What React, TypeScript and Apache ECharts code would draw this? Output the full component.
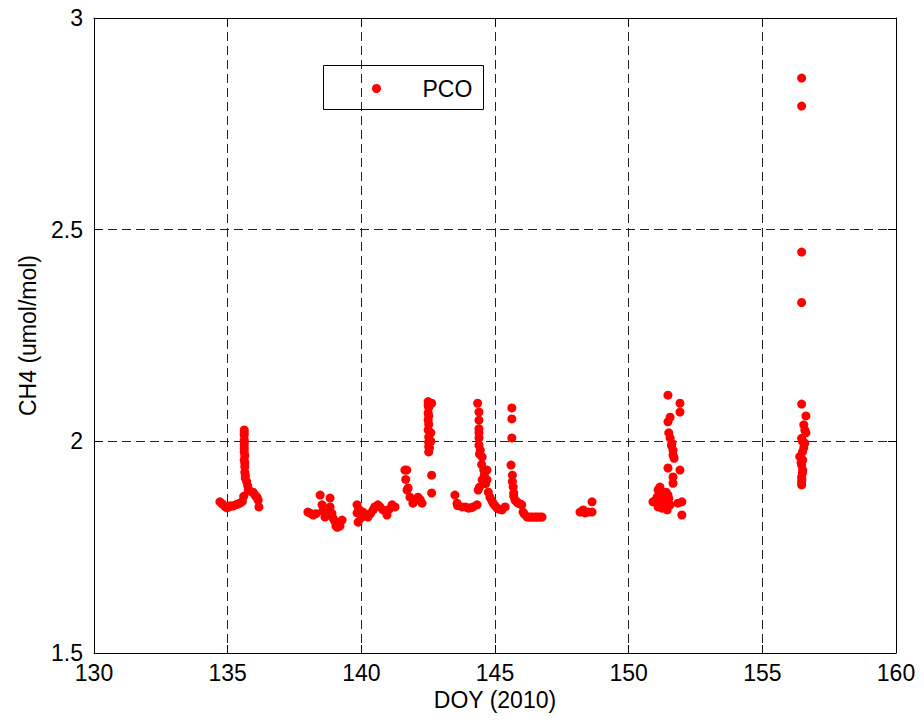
import React, { useEffect, useRef } from "react";
import * as echarts from "echarts";

// PCO CH4 observations, grouped by measurement period: [DOY, CH4 umol/mol]
const period135: [number, number][] = [
  [134.71, 1.857], [134.8, 1.852], [134.9, 1.846], [134.97, 1.843],
  [135.05, 1.845], [135.1, 1.848], [135.2, 1.847], [135.3, 1.85],
  [135.38, 1.852], [135.46, 1.854], [135.55, 1.858], [135.6, 1.87],
  [135.62, 2.027], [135.62, 2.02], [135.62, 2.015], [135.62, 2.003],
  [135.62, 1.997], [135.62, 1.991], [135.62, 1.983], [135.62, 1.975],
  [135.64, 1.966], [135.62, 1.956], [135.64, 1.949], [135.64, 1.94],
  [135.64, 1.927], [135.66, 1.92], [135.66, 1.913], [135.71, 1.905],
  [135.75, 1.895], [135.77, 1.885], [135.85, 1.882], [135.95, 1.88],
  [136.0, 1.875], [136.05, 1.87], [136.1, 1.868], [136.14, 1.861],
  [136.17, 1.845],
];

const period139: [number, number][] = [
  [138.0, 1.833], [138.1, 1.83], [138.2, 1.826], [138.3, 1.829],
  [138.46, 1.873], [138.53, 1.85], [138.55, 1.835], [138.64, 1.821],
  [138.7, 1.83], [138.83, 1.866], [138.83, 1.845], [138.9, 1.83],
  [138.94, 1.819], [139.0, 1.812], [139.05, 1.8], [139.1, 1.797],
  [139.13, 1.807], [139.2, 1.8], [139.28, 1.814],
  [139.84, 1.85], [139.9, 1.84], [139.84, 1.831], [139.88, 1.809],
  [140.0, 1.82], [140.06, 1.833], [140.15, 1.828], [140.25, 1.821],
  [140.35, 1.83], [140.44, 1.838], [140.5, 1.845], [140.62, 1.85],
  [140.7, 1.845], [140.81, 1.838], [140.96, 1.826], [141.05, 1.84],
  [141.15, 1.85], [141.26, 1.845],
];

const period142: [number, number][] = [
  [141.63, 1.932], [141.7, 1.932], [141.66, 1.91], [141.71, 1.885],
  [141.75, 1.89], [141.82, 1.868], [141.93, 1.854], [142.0, 1.86],
  [142.12, 1.868], [142.2, 1.862], [142.27, 1.854],
  [142.5, 2.094], [142.5, 2.086], [142.52, 2.08], [142.5, 2.067],
  [142.52, 2.06], [142.5, 2.05], [142.52, 2.04], [142.5, 2.027],
  [142.6, 2.02], [142.52, 2.01], [142.6, 2.0], [142.52, 1.998],
  [142.52, 1.987], [142.55, 1.985], [142.52, 1.975],
  [142.63, 2.09], [142.63, 1.92], [142.63, 1.878],
];

const period144: [number, number][] = [
  [143.5, 1.873], [143.58, 1.854], [143.6, 1.848], [143.77, 1.845],
  [143.9, 1.845], [144.0, 1.842], [144.1, 1.843], [144.18, 1.845],
  [144.33, 1.85],
  [144.35, 2.09], [144.4, 2.069], [144.4, 2.05], [144.4, 2.03],
  [144.4, 2.02], [144.4, 2.008], [144.4, 1.991], [144.45, 1.979],
  [144.42, 1.97], [144.52, 1.963], [144.5, 1.945], [144.58, 1.932],
  [144.6, 1.92], [144.52, 1.909], [144.65, 1.9], [144.42, 1.892],
  [144.37, 1.885], [144.75, 1.88],
  [144.7, 1.932], [144.7, 1.909], [144.81, 1.868], [144.88, 1.86],
  [144.93, 1.854], [145.0, 1.848], [145.08, 1.842], [145.15, 1.84],
  [145.26, 1.838], [145.38, 1.845],
  [145.63, 2.079], [145.63, 2.053], [145.63, 2.008], [145.6, 1.944],
  [145.65, 1.92], [145.65, 1.905], [145.68, 1.892], [145.7, 1.878],
  [145.7, 1.87], [145.75, 1.861], [145.8, 1.858], [145.86, 1.854],
  [145.95, 1.852], [146.0, 1.85], [146.05, 1.833], [146.1, 1.828],
  [146.2, 1.821], [146.28, 1.821], [146.35, 1.821], [146.42, 1.821],
  [146.5, 1.821], [146.56, 1.821], [146.62, 1.821], [146.7, 1.821],
  [146.76, 1.821],
];

const period148: [number, number][] = [
  [148.18, 1.833], [148.3, 1.838], [148.37, 1.831], [148.48, 1.833],
  [148.63, 1.857], [148.63, 1.833],
];

const period151: [number, number][] = [
  [150.91, 1.857], [151.0, 1.86], [151.06, 1.868], [151.1, 1.885],
  [151.17, 1.892], [151.2, 1.87], [151.1, 1.845], [151.25, 1.842],
  [151.29, 1.854], [151.35, 1.86], [151.4, 1.88], [151.44, 1.873],
  [151.44, 1.838], [151.47, 1.873], [151.5, 1.865], [151.55, 1.85],
  [151.47, 1.937], [151.47, 2.109], [151.55, 2.057], [151.47, 2.046],
  [151.5, 2.02], [151.55, 2.008], [151.62, 1.996], [151.6, 1.99],
  [151.66, 1.979], [151.66, 1.968], [151.7, 1.96], [151.66, 1.916],
  [151.66, 1.901], [151.92, 1.932], [151.92, 2.09], [151.92, 2.069],
  [151.99, 1.857], [151.99, 1.826], [151.84, 1.854],
];

const period156: [number, number][] = [
  [156.47, 2.858], [156.47, 2.792], [156.47, 2.447], [156.47, 2.328],
  [156.47, 2.088], [156.63, 2.06], [156.55, 2.039], [156.59, 2.027],
  [156.63, 2.02], [156.47, 2.007], [156.5, 2.0], [156.59, 1.996],
  [156.55, 1.985], [156.5, 1.975], [156.4, 1.964], [156.51, 1.956],
  [156.45, 1.95], [156.47, 1.944], [156.51, 1.932], [156.5, 1.925],
  [156.47, 1.916], [156.48, 1.91], [156.47, 1.904], [156.47, 1.897],
];

const pcoPoints = [
  ...period135, ...period139, ...period142, ...period144,
  ...period148, ...period151, ...period156,
];

const xRange = { min: 130, max: 160, interval: 5 };
const yRange = { min: 1.5, max: 3, interval: 0.5 };
const seriesName = "PCO";
const xTitle = "DOY (2010)";
const yTitle = "CH4 (umol/mol)";

const FONT = "'Liberation Sans', Arial, Helvetica, sans-serif";
const FONT_SIZE = 23;

export default function App() {
  const ref = useRef<HTMLDivElement>(null);

  useEffect(() => {
    if (!ref.current) return;
    const chart = echarts.init(ref.current, undefined, { renderer: "svg" });

    const frameLine = { show: true, onZero: false, lineStyle: { color: "#000", width: 1 } };
    const innerTick = { show: true, inside: true, length: 8, lineStyle: { color: "#000", width: 1 } };
    const gridDash = {
      show: true,
      lineStyle: { color: "#222", width: 1, type: [9, 5] as number[] },
    };

    chart.setOption({
      animation: false,
      backgroundColor: "#fff",
      textStyle: { fontFamily: FONT },
      grid: { left: 94, right: 28, top: 18, bottom: 71, containLabel: false },
      xAxis: [
        {
          type: "value",
          ...xRange,
          position: "bottom",
          name: xTitle,
          nameLocation: "middle",
          nameGap: 32,
          nameTextStyle: { fontSize: FONT_SIZE, color: "#000", fontFamily: FONT },
          axisLine: frameLine,
          axisTick: innerTick,
          axisLabel: { fontSize: FONT_SIZE, color: "#000", margin: 8, fontFamily: FONT },
          splitLine: gridDash,
        },
        {
          type: "value",
          ...xRange,
          position: "top",
          axisLine: frameLine,
          axisTick: innerTick,
          axisLabel: { show: false },
          splitLine: { show: false },
        },
      ],
      yAxis: [
        {
          type: "value",
          ...yRange,
          position: "left",
          name: yTitle,
          nameLocation: "middle",
          nameGap: 55,
          nameTextStyle: { fontSize: FONT_SIZE, color: "#000", fontFamily: FONT },
          axisLine: frameLine,
          axisTick: innerTick,
          axisLabel: { fontSize: FONT_SIZE, color: "#000", margin: 11, fontFamily: FONT },
          splitLine: gridDash,
        },
        {
          type: "value",
          ...yRange,
          position: "right",
          axisLine: frameLine,
          axisTick: innerTick,
          axisLabel: { show: false },
          splitLine: { show: false },
        },
      ],
      series: [
        {
          name: seriesName,
          type: "scatter",
          xAxisIndex: 0,
          yAxisIndex: 0,
          data: pcoPoints,
          symbol: "circle",
          symbolSize: 9,
          itemStyle: { color: "#ff0000", opacity: 1 },
          emphasis: { disabled: true },
        },
      ],
      graphic: [
        {
          type: "group",
          left: 323,
          top: 65,
          children: [
            {
              type: "rect",
              shape: { x: 0, y: 0, width: 160, height: 44 },
              style: { fill: "#fff", stroke: "#000", lineWidth: 1 },
            },
            {
              type: "circle",
              shape: { cx: 53, cy: 23, r: 4.5 },
              style: { fill: "#ff0000" },
            },
            {
              type: "text",
              x: 99,
              y: 23,
              style: {
                text: seriesName,
                fontSize: FONT_SIZE,
                fontFamily: FONT,
                fill: "#000",
                verticalAlign: "middle",
                align: "left",
              },
            },
          ],
        },
      ],
    });

    return () => chart.dispose();
  }, []);

  return (
    <div
      ref={ref}
      style={{ width: 924, height: 724, position: "absolute", left: 0, top: 0 }}
    />
  );
}
